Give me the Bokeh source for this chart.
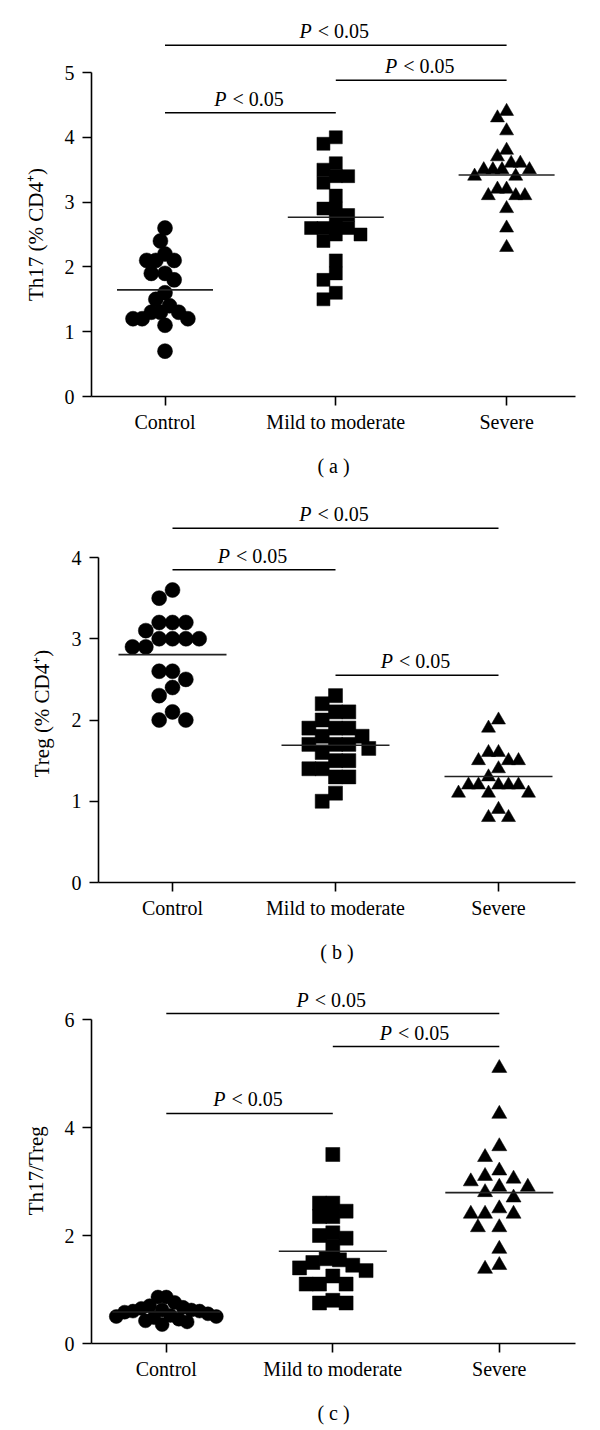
import math
from bokeh.plotting import figure
from bokeh.layouts import column, row
from bokeh.models import FixedTicker, Range1d
from bokeh.embed import file_html
from bokeh.resources import INLINE
from bokeh.core.properties import value

# ---------------- data ----------------
groups = ["Control", "Mild to moderate", "Severe"]

th17_control = [2.6, 2.4, 2.2, 2.1, 2.1, 2.1, 1.9, 1.9, 1.8, 1.6, 1.5, 1.4,
                1.3, 1.3, 1.3, 1.2, 1.2, 1.2, 1.1, 0.7]
th17_mild = [4.0, 3.9, 3.6, 3.5, 3.4, 3.4, 3.3, 3.1, 2.9, 2.9, 2.8, 2.7,
             2.6, 2.6, 2.6, 2.5, 2.5, 2.4, 2.1, 1.9, 1.8, 1.6, 1.5]
th17_severe = [4.4, 4.3, 4.1, 3.8, 3.7, 3.6, 3.6, 3.5, 3.5, 3.5, 3.5, 3.4,
               3.4, 3.2, 3.2, 3.1, 3.1, 3.1, 2.9, 2.6, 2.3]

treg_control = [3.6, 3.5, 3.2, 3.2, 3.2, 3.1, 3.0, 3.0, 3.0, 3.0, 2.9, 2.9,
                2.6, 2.6, 2.5, 2.4, 2.3, 2.1, 2.0, 2.0]
treg_mild = [2.3, 2.2, 2.1, 2.1, 2.0, 1.9, 1.9, 1.9, 1.8, 1.8, 1.7, 1.7,
             1.7, 1.65, 1.6, 1.5, 1.5, 1.4, 1.4, 1.3, 1.3, 1.1, 1.0]
treg_severe = [2.0, 1.9, 1.6, 1.6, 1.5, 1.5, 1.5, 1.4, 1.3, 1.2, 1.2, 1.2,
               1.2, 1.2, 1.1, 1.1, 1.1, 0.9, 0.8, 0.8]

ratio_control = [0.86, 0.86, 0.76, 0.70, 0.67, 0.65, 0.62, 0.62, 0.60, 0.60,
                 0.58, 0.55, 0.52, 0.50, 0.50, 0.48, 0.45, 0.42, 0.40, 0.35]
ratio_mild = [3.5, 2.6, 2.6, 2.45, 2.35, 2.35, 2.05, 2.0, 1.95, 1.8, 1.57,
              1.55, 1.5, 1.45, 1.4, 1.35, 1.25, 1.1, 1.1, 1.1, 0.8, 0.75, 0.75]
ratio_severe = [5.1, 4.25, 3.65, 3.45, 3.2, 3.1, 3.05, 3.0, 2.9, 2.9, 2.8,
                2.7, 2.5, 2.4, 2.4, 2.4, 2.15, 2.15, 1.75, 1.45, 1.38]

comparisons = [(0, 2), (1, 2), (0, 1)]   # pairs of groups compared
p_text = "< 0.05"

FONT = "Liberation Serif"
FS = "20px"
YLAB_FS = "21px"
MARKERS = ["circle", "square", "triangle"]
PAGE_W = 600
LAB_W = 56          # width of the strip that holds the y-axis title


def swarm(vals, px_unit, size, limit):
    """Deterministic beeswarm offsets (px), compressed to fit the limit."""
    d = size * 0.95
    step = d * 0.5
    order = sorted(range(len(vals)), key=lambda i: -vals[i])
    placed = []
    offs = [0.0] * len(vals)
    cands = [0.0]
    for k in range(1, 40):
        cands += [-k * step, k * step]
    for i in order:
        y = vals[i] * px_unit
        c = 0.0
        for c in cands:
            if all((c - px) ** 2 + (y - py) ** 2 >= d * d for px, py in placed):
                break
        offs[i] = c
        placed.append((c, y))
    mx = max(abs(o) for o in offs)
    if mx > limit:
        offs = [o * limit / mx for o in offs]
    return offs


def panel(series, ylabel, caption, yticks, cfg):
    fig_top = cfg["fig_top"]
    frame_left, frame_right = cfg["frame_left"], cfg["frame_right"]
    frame_top, zero_y = cfg["frame_top"], cfg["zero_y"]
    py = cfg["px_y"]
    cat0, step = cfg["cat0"], cfg["cat_step"]

    fw = frame_right - frame_left
    b_top = frame_top - fig_top
    fh = zero_y - frame_top
    b_bottom = cfg["height"] - b_top - fh
    yr = Range1d(0, fh / py)

    # ---- strip with the rotated y-axis title ----
    lab = figure(width=LAB_W, height=cfg["height"], output_backend="svg",
                 toolbar_location=None, title=None, x_range=Range1d(0, LAB_W),
                 y_range=yr, x_axis_type=None, y_axis_type=None,
                 min_border_left=0, min_border_right=0,
                 min_border_top=b_top, min_border_bottom=b_bottom)
    lab.outline_line_color = None
    lab.xgrid.visible = False
    lab.ygrid.visible = False
    lab.text(x=[cfg["ylab_x"]], y=[cfg["ylab_y"]], text=[ylabel],
             angle=math.pi / 2, text_align="center", text_baseline="middle",
             text_font=value(FONT), text_font_size=YLAB_FS, text_color="black")

    # ---- main plot ----
    x0 = -(cat0 - frame_left) / step
    p = figure(width=PAGE_W - LAB_W, height=cfg["height"], output_backend="svg",
               toolbar_location=None, title=None,
               x_range=Range1d(x0, x0 + fw / step), y_range=yr,
               min_border_left=frame_left - LAB_W,
               min_border_right=PAGE_W - frame_right,
               min_border_top=b_top, min_border_bottom=b_bottom)
    p.outline_line_color = None
    p.xgrid.visible = False
    p.ygrid.visible = False
    p.background_fill_color = "white"
    p.border_fill_color = "white"

    for ax in (p.xaxis[0], p.yaxis[0]):
        ax.axis_line_width = 1.6
        ax.axis_line_color = "black"
        ax.major_tick_line_width = 1.6
        ax.major_tick_line_color = "black"
        ax.major_tick_in = 0
        ax.major_tick_out = 9
        ax.minor_tick_in = 0
        ax.minor_tick_out = 0
        ax.major_label_text_font = FONT
        ax.major_label_text_font_size = FS
        ax.major_label_text_color = "black"
        ax.axis_label_text_font = FONT
        ax.axis_label_text_font_size = FS
        ax.axis_label_text_font_style = "normal"
        ax.axis_label_text_color = "black"

    yax = p.yaxis[0]
    yax.ticker = FixedTicker(ticks=yticks)
    yax.bounds = (0, yticks[-1])
    yax.major_label_standoff = 8

    xax = p.xaxis[0]
    xax.ticker = FixedTicker(ticks=[0, 1, 2])
    xax.major_label_overrides = {i: g for i, g in enumerate(groups)}
    xax.major_label_standoff = 5
    xax.axis_label = caption
    xax.axis_label_standoff = 19

    for gi, vals in enumerate(series):
        offs = swarm(vals, py, cfg["msize"][gi], cfg["spread"][gi])
        xs = [gi + o / step for o in offs]
        p.scatter(xs, vals, marker=MARKERS[gi], size=cfg["msize"][gi],
                  fill_color="black", line_color="black", line_width=0.5)
        m = sum(vals) / len(vals)
        hw = cfg["mean_half"] / step
        p.segment(x0=[gi - hw], y0=[m], x1=[gi + hw], y1=[m],
                  line_color="#222222", line_width=1.6)

    for (a, b), lvl in zip(comparisons, cfg["levels"]):
        p.segment(x0=[a], y0=[lvl], x1=[b], y1=[lvl],
                  line_color="black", line_width=1.4)
        xm = (a + b) / 2
        p.text(x=[xm], y=[lvl], text=["P"], text_font=value(FONT),
               text_font_size=FS, text_font_style="italic",
               text_align="right", text_baseline="bottom",
               x_offset=-24, y_offset=-3, text_color="black")
        p.text(x=[xm], y=[lvl], text=[p_text], text_font=value(FONT),
               text_font_size=FS, text_align="left", text_baseline="bottom",
               x_offset=-18, y_offset=-3, text_color="black")
    return row(lab, p, spacing=0)


cfg_a = dict(fig_top=0, height=484, frame_left=91, frame_right=575,
             frame_top=10, zero_y=396, px_y=64.8, cat0=164.5, cat_step=170.8,
             msize=[15, 13, 14], spread=[32, 32, 32], mean_half=48,
             levels=[5.42, 4.88, 4.38], ylab_x=35, ylab_y=2.5)
cfg_b = dict(fig_top=484, height=481, frame_left=98, frame_right=575,
             frame_top=496, zero_y=882, px_y=81.25, cat0=172, cat_step=163,
             msize=[15, 14, 14], spread=[40, 40, 40], mean_half=54,
             levels=[4.36, 2.55, 3.85], ylab_x=41, ylab_y=2.08)
cfg_c = dict(fig_top=965, height=465, frame_left=91, frame_right=575,
             frame_top=975, zero_y=1343, px_y=54.0, cat0=165.8, cat_step=166.5,
             msize=[14, 14, 15], spread=[50, 40, 40], mean_half=54,
             levels=[6.11, 5.5, 4.26], ylab_x=35, ylab_y=3.2)

pa = panel([th17_control, th17_mild, th17_severe], "Th17 (% CD4\u207a)", "( a )",
           [0, 1, 2, 3, 4, 5], cfg_a)
pb = panel([treg_control, treg_mild, treg_severe], "Treg (% CD4\u207a)", "( b )",
           [0, 1, 2, 3, 4], cfg_b)
pc = panel([ratio_control, ratio_mild, ratio_severe], "Th17/Treg", "( c )",
           [0, 2, 4, 6], cfg_c)

layout = column(pa, pb, pc, spacing=0)
open("out.html", "w").write(file_html(layout, INLINE))
